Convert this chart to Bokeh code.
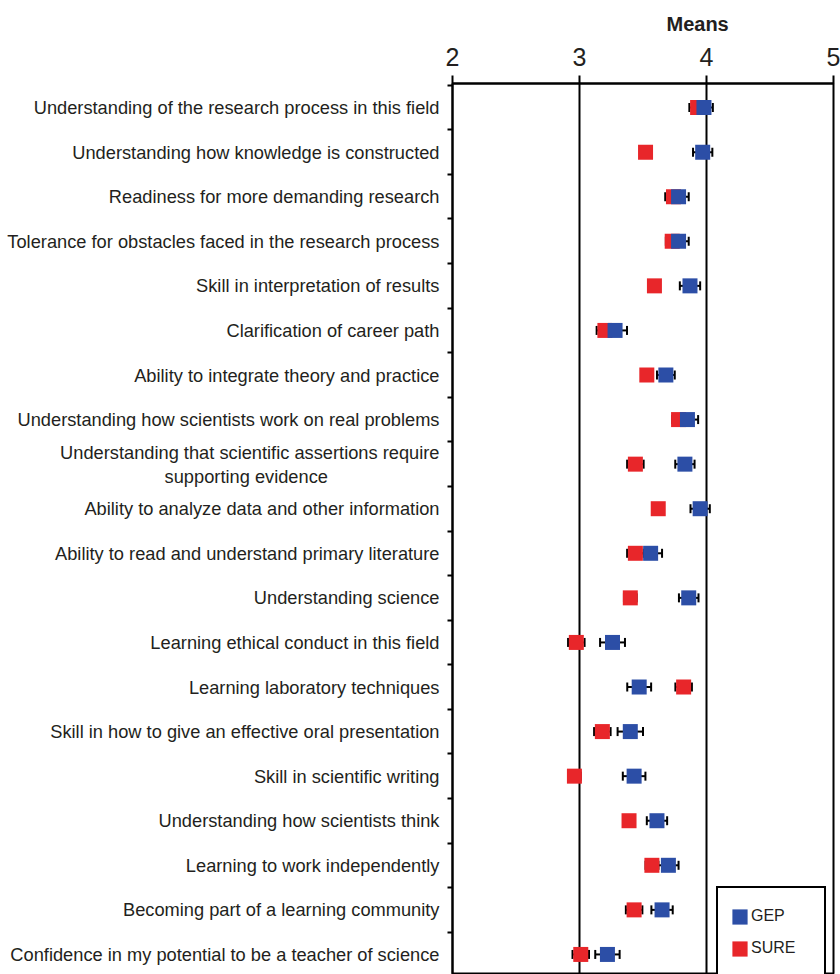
from bokeh.plotting import figure
from bokeh.models import (Range1d, FixedTicker, Whisker, ColumnDataSource, Legend,
                          LegendItem, TeeHead)
from bokeh.embed import file_html
from bokeh.resources import INLINE

NBSP = "\u00a0"

categories = [
    "Understanding of the research process in this field",
    "Understanding how knowledge is constructed",
    "Readiness for more demanding research",
    "Tolerance for obstacles faced in the research process",
    "Skill in interpretation of results",
    "Clarification of career path",
    "Ability to integrate theory and practice",
    "Understanding how scientists work on real problems",
    "Understanding that scientific assertions require\nsupporting evidence",
    "Ability to analyze data and other information",
    "Ability to read and understand primary literature",
    "Understanding science",
    "Learning ethical conduct in this field",
    "Learning laboratory techniques",
    "Skill in how to give an effective oral presentation",
    "Skill in scientific writing",
    "Understanding how scientists think",
    "Learning to work independently",
    "Becoming part of a learning community",
    "Confidence in my potential to be a teacher of science",
]
gep = [3.98, 3.97, 3.78, 3.78, 3.87, 3.28, 3.68, 3.85, 3.83, 3.95,
       3.56, 3.86, 3.26, 3.47, 3.40, 3.43, 3.61, 3.70, 3.65, 3.22]
gep_err = [0.07, 0.076, 0.08, 0.08, 0.08, 0.094, 0.07, 0.084, 0.076, 0.076,
           0.09, 0.077, 0.098, 0.094, 0.10, 0.089, 0.08, 0.08, 0.084, 0.096]
sure = [3.93, 3.52, 3.74, 3.73, 3.59, 3.20, 3.53, 3.78, 3.44, 3.62,
        3.44, 3.40, 2.975, 3.82, 3.18, 2.96, 3.39, 3.57, 3.43, 3.01]
sure_err = [0.065, 0.04, 0.065, 0.05, 0.04, 0.065, 0.04, 0.05, 0.065, 0.04,
            0.065, 0.05, 0.065, 0.065, 0.065, 0.05, 0.04, 0.05, 0.065, 0.065]
x_ticks = [2, 3, 4, 5]
series_names = ["GEP", "SURE"]

BLUE = "#2C4EA6"
RED = "#E8262A"
INK = "#231F20"
FONT = "Liberation Sans"

FRAME_LEFT = 452
FRAME_RIGHT_PAD = 7
FRAME_TOP = 83
WIDTH = 840
HEIGHT = 974


def centre_lines(label, pad=22):
    # right-aligned axis labels: pad the short 2nd line so both lines sit centred
    if "\n" not in label:
        return label
    first, second = label.split("\n")
    return first + "\n" + second + NBSP * pad


rows = list(range(1, len(categories) + 1))
axis_labels = {r: centre_lines(c) for r, c in zip(rows, categories)}

src = ColumnDataSource(dict(
    y=rows,
    gep=gep, gl=[g - e for g, e in zip(gep, gep_err)], gu=[g + e for g, e in zip(gep, gep_err)],
    sure=sure, sl=[s - e for s, e in zip(sure, sure_err)], su=[s + e for s, e in zip(sure, sure_err)],
))

p = figure(width=WIDTH, height=HEIGHT, x_range=Range1d(2, 5), y_range=Range1d(20.45, 0.46),
           x_axis_location="above", output_backend="svg", toolbar_location=None,
           min_border_left=FRAME_LEFT, min_border_right=FRAME_RIGHT_PAD,
           min_border_top=FRAME_TOP, min_border_bottom=0,
           background_fill_color="white", border_fill_color="white")

p.outline_line_color = "black"
p.outline_line_width = 2

# title "Means"
p.title.text = "Means"
p.title.text_font = FONT
p.title.text_font_size = "20px"
p.title.text_font_style = "bold"
p.title.text_color = INK
p.title.align = "left"
p.title.offset = 214
p.title.standoff = 19

# top axis
xa = p.xaxis[0]
xa.ticker = FixedTicker(ticks=x_ticks)
xa.major_label_text_font = FONT
xa.major_label_text_font_size = "25px"
xa.major_label_text_color = INK
xa.major_label_standoff = 10
xa.axis_line_width = 2
xa.axis_line_color = "black"
xa.major_tick_line_width = 2
xa.major_tick_line_color = "black"
xa.major_tick_out = 8
xa.major_tick_in = 0
xa.minor_tick_line_color = None

# left axis with category labels
ya = p.yaxis[0]
ya.ticker = FixedTicker(ticks=rows, minor_ticks=[r + 0.5 for r in range(0, len(rows) + 1)])
ya.major_label_overrides = axis_labels
ya.major_label_text_font = FONT
ya.major_label_text_font_size = "18.25px"
ya.major_label_text_color = INK
ya.major_label_text_line_height = 1.15
ya.major_label_standoff = 8
ya.major_tick_line_color = None
ya.major_tick_out = 0
ya.major_tick_in = 0
ya.minor_tick_line_color = "black"
ya.minor_tick_line_width = 2
ya.minor_tick_out = 5
ya.minor_tick_in = 0
ya.axis_line_width = 2
ya.axis_line_color = "black"

p.xgrid.ticker = FixedTicker(ticks=x_ticks)
p.xgrid.grid_line_color = "black"
p.xgrid.grid_line_width = 2
p.ygrid.grid_line_color = None

for lo, hi in (("sl", "su"), ("gl", "gu")):
    w = Whisker(source=src, base="y", lower=lo, upper=hi, dimension="width",
                line_color="black", line_width=2,
                upper_head=TeeHead(size=9, line_width=2, line_color="black"),
                lower_head=TeeHead(size=9, line_width=2, line_color="black"))
    p.add_layout(w)

rs = p.rect(x="sure", y="y", width=15, height=15, width_units="screen", height_units="screen",
            fill_color=RED, line_color=None, source=src)
rg = p.rect(x="gep", y="y", width=15, height=15, width_units="screen", height_units="screen",
            fill_color=BLUE, line_color=None, source=src)

legend = Legend(items=[LegendItem(label=series_names[0], renderers=[rg]),
                       LegendItem(label=series_names[1], renderers=[rs])],
                location=(264, -4))
legend.border_line_color = "black"
legend.border_line_alpha = 1
legend.border_line_width = 2
legend.background_fill_color = "white"
legend.background_fill_alpha = 1
legend.label_text_font = FONT
legend.label_text_font_size = "16px"
legend.label_text_color = INK
legend.glyph_width = 19
legend.glyph_height = 19
legend.label_height = 32
legend.label_width = 61
legend.label_standoff = 2
legend.spacing = 0
legend.padding = 12
legend.margin = 0
p.add_layout(legend)

open("out.html", "w").write(file_html(p, INLINE))
